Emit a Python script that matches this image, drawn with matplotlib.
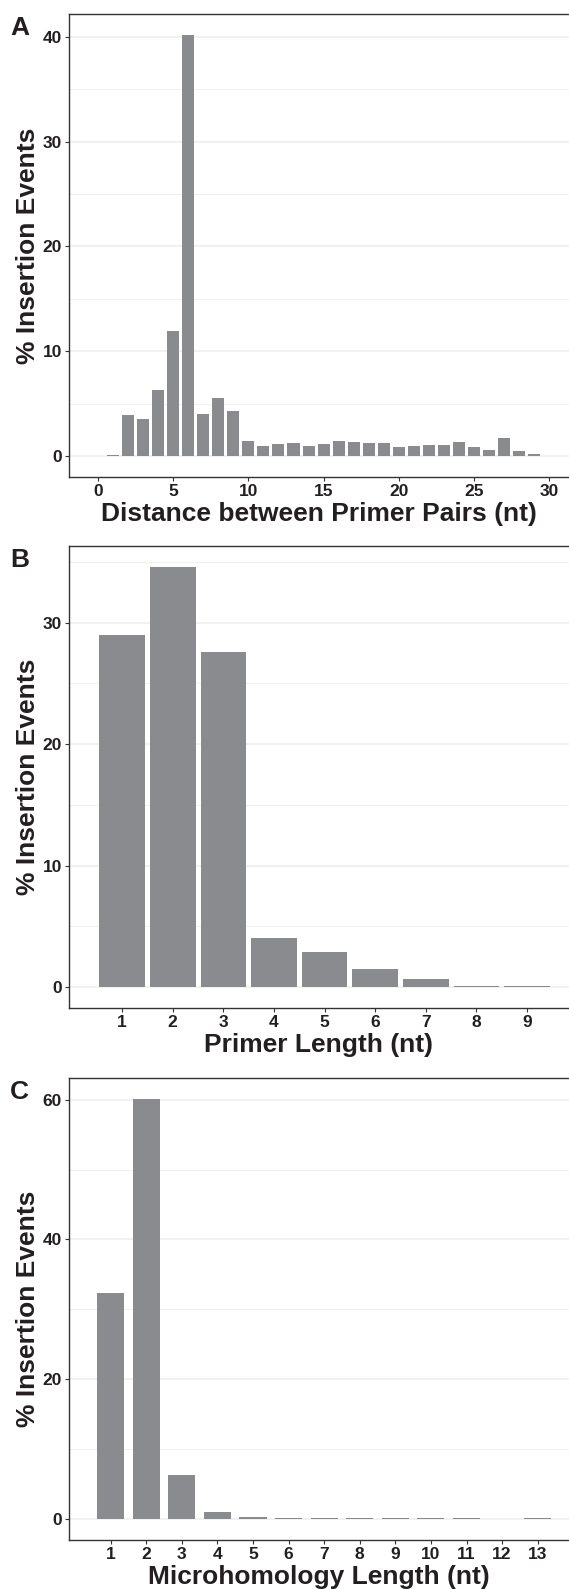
import matplotlib
matplotlib.use("Agg")
import matplotlib.pyplot as plt

# Daten: Abstand zwischen Primer-Paaren (A)
dist_nt = [1, 2, 3, 4, 5, 6, 7, 8, 9, 10, 11, 12, 13, 14, 15,
           16, 17, 18, 19, 20, 21, 22, 23, 24, 25, 26, 27, 28, 29]
dist_pct = [0.1, 3.9, 3.5, 6.3, 11.9, 40.2, 4.0, 5.5, 4.3, 1.4, 0.95, 1.15, 1.25, 0.95, 1.15,
            1.4, 1.35, 1.25, 1.25, 0.85, 0.95, 1.05, 1.05, 1.35, 0.85, 0.55, 1.7, 0.5, 0.2]

# Daten: Primer-Laenge (B)
primer_nt = [1, 2, 3, 4, 5, 6, 7, 8, 9]
primer_pct = [29.0, 34.6, 27.6, 4.0, 2.85, 1.45, 0.65, 0.06, 0.06]

# Daten: Mikrohomologie-Laenge (C)
micro_nt = [1, 2, 3, 4, 5, 6, 7, 8, 9, 10, 11, 12, 13]
micro_pct = [32.4, 60.1, 6.3, 1.0, 0.3, 0.1, 0.1, 0.1, 0.1, 0.1, 0.1, 0.0, 0.1]

BAR_COLOR = "#8a8b8f"
TEXT_COLOR = "#231f20"
GRID_COLOR = "#eeeeee"

plt.rcParams["font.family"] = ["Liberation Sans", "DejaVu Sans"]
plt.rcParams["font.weight"] = "bold"

W, H = 569, 1589


def panel(fig, top, bottom, x, y, width, xlim, ylim, xticks, yticks, yminor, xlabel, letter):
    """Zeichnet ein Panel im ggplot-Stil (Pixelangaben von oben gemessen)."""
    left = 69
    ax = fig.add_axes([left / W, 1 - bottom / H, (W - left) / W, (bottom - top) / H])

    # Gitterlinien
    for v in yminor:
        ax.axhline(v, color=GRID_COLOR, lw=0.6, zorder=0)
    for v in yticks:
        ax.axhline(v, color=GRID_COLOR, lw=1.1, zorder=0)

    ax.bar(x, y, width=width, color=BAR_COLOR, zorder=2)

    ax.set_xlim(*xlim)
    ax.set_ylim(*ylim)
    ax.set_xticks(xticks)
    ax.set_yticks(yticks)

    # Rahmen
    ax.spines["right"].set_visible(False)
    for s in ["left", "bottom", "top"]:
        ax.spines[s].set_color("#333333")
        ax.spines[s].set_linewidth(1.0)

    ax.tick_params(axis="both", length=3, width=0.8, color="#333333", labelsize=12.5,
                   labelcolor=TEXT_COLOR, pad=2)
    for lbl in ax.get_xticklabels() + ax.get_yticklabels():
        lbl.set_fontweight("bold")

    ax.set_xlabel(xlabel, fontsize=19, fontweight="bold", color=TEXT_COLOR, labelpad=2.5)
    ax.set_ylabel("% Insertion Events", fontsize=19, fontweight="bold", color=TEXT_COLOR, labelpad=2)

    # Panel-Buchstabe
    fig.text(10 / W, 1 - (top + 2) / H, letter, fontsize=19, fontweight="bold",
             color=TEXT_COLOR, ha="left", va="top")
    return ax


def main():
    fig = plt.figure(figsize=(W / 100, H / 100), dpi=100)

    panel(fig, 14, 477, dist_nt, dist_pct, 0.8,
          (-1.91, 31.3), (-2.01, 42.2),
          [0, 5, 10, 15, 20, 25, 30], [0, 10, 20, 30, 40], [5, 15, 25, 35],
          "Distance between Primer Pairs (nt)", "A")

    panel(fig, 546, 1008, primer_nt, primer_pct, 0.9,
          (-0.05, 9.83), (-1.73, 36.3),
          primer_nt, [0, 10, 20, 30], [5, 15, 25, 35],
          "Primer Length (nt)", "B")

    panel(fig, 1078, 1540, micro_nt, micro_pct, 0.76,
          (-0.17, 13.88), (-3.0, 63.1),
          micro_nt, [0, 20, 40, 60], [10, 30, 50],
          "Microhomology Length (nt)", "C")

    fig.savefig("out.png", dpi=100)


if __name__ == "__main__":
    main()
